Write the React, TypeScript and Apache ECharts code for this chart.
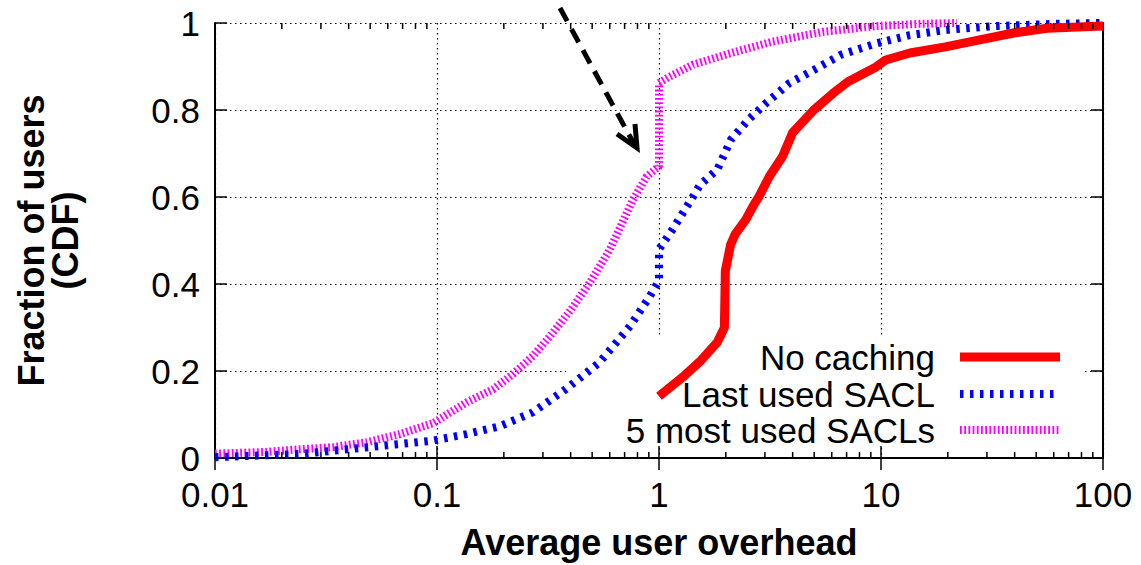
import React, { useEffect, useRef } from "react";
import * as echarts from "echarts";

const seriesNames = ["No caching", "Last used SACL", "5 most used SACLs"];
const seriesColors = ["#ff0000", "#0000ff", "#ff00ff"];

const noCaching: number[][] = [
  [1.0, 0.142], [1.28, 0.186], [1.53, 0.222], [1.83, 0.266], [1.93, 0.29], [1.97, 0.3],
  [1.99, 0.43], [2.1, 0.49], [2.2, 0.514], [2.46, 0.548], [2.66, 0.58], [2.82, 0.601],
  [3.14, 0.647], [3.6, 0.693], [4.0, 0.748], [4.98, 0.8], [6.1, 0.839], [7.1, 0.865],
  [9.5, 0.899], [10.5, 0.915], [13.5, 0.931], [19.5, 0.945], [27.8, 0.961], [39.5, 0.977],
  [56, 0.988], [100, 0.993],
];

const lastUsedSacl: number[][] = [
  [0.01, 0.002], [0.024, 0.009], [0.041, 0.021], [0.068, 0.032], [0.096, 0.04], [0.136, 0.055],
  [0.192, 0.073], [0.27, 0.105], [0.38, 0.158], [0.54, 0.22], [0.74, 0.303], [0.91, 0.372],
  [0.98, 0.4], [1.0, 0.41], [1.0, 0.48], [1.15, 0.525], [1.42, 0.6], [1.53, 0.628],
  [1.83, 0.663], [2.11, 0.732], [2.53, 0.778], [3.04, 0.816], [3.87, 0.862], [4.98, 0.892],
  [6.6, 0.927], [9.5, 0.953], [13.5, 0.972], [19.5, 0.984], [33, 0.993], [60, 0.998], [100, 1.0],
];

const mostUsed5: number[][] = [
  [0.01, 0.01], [0.017, 0.014], [0.024, 0.02], [0.034, 0.025], [0.048, 0.036], [0.068, 0.055],
  [0.096, 0.08], [0.136, 0.128], [0.179, 0.158], [0.22, 0.193], [0.27, 0.234], [0.323, 0.28],
  [0.4, 0.34], [0.489, 0.404], [0.6, 0.479], [0.764, 0.594], [0.88, 0.647], [0.97, 0.665],
  [1.0, 0.67], [1.0, 0.862], [1.1, 0.875], [1.42, 0.904], [2.11, 0.931], [3.23, 0.957],
  [5.53, 0.98], [9.5, 0.993], [15, 0.998], [22, 1.0],
];

const minorTickValues = [
  0.02, 0.03, 0.04, 0.05, 0.06, 0.07, 0.08, 0.09,
  0.2, 0.3, 0.4, 0.5, 0.6, 0.7, 0.8, 0.9,
  2, 3, 4, 5, 6, 7, 8, 9,
  20, 30, 40, 50, 60, 70, 80, 90,
];

const xTitle = "Average user overhead";
const yTitle = "Fraction of users\n(CDF)";

const FONT = '"Liberation Sans", Arial, Helvetica, sans-serif';

export default function App() {
  const ref = useRef<HTMLDivElement>(null);

  useEffect(() => {
    if (!ref.current) return;
    const chart = echarts.init(ref.current, undefined, { renderer: "svg" });

    const axisLine = { show: true, lineStyle: { color: "#000", width: 2 } };
    const splitLine = {
      show: true,
      lineStyle: { color: "#000", width: 1.2, type: [1.5, 3.5] as any },
    };

    const legendRows = [357, 394, 430];
    const legendDash: any[] = [null, [3.5, 6.5], [1.8, 2.4]];
    const legendWidths = [9, 8, 8];

    const graphic: any[] = [
      {
        type: "rect",
        z: 1,
        shape: { x: 566, y: 338, width: 516, height: 107 },
        style: { fill: "#fff" },
        silent: true,
      },
      {
        type: "line",
        z: 10,
        shape: { x1: 560, y1: 8, x2: 634, y2: 144 },
        style: { stroke: "#000", lineWidth: 5, lineDash: [15, 9] },
      },
      {
        type: "polyline",
        z: 10,
        shape: { points: [[617, 134], [637, 148], [635, 124]] },
        style: { stroke: "#000", lineWidth: 5, fill: "none", lineJoin: "miter" },
      },
    ];
    seriesNames.forEach((name, i) => {
      graphic.push({
        type: "text",
        z: 10,
        x: 935,
        y: legendRows[i],
        style: {
          text: name,
          fontSize: 35,
          fontFamily: FONT,
          fill: "#000",
          align: "right",
          verticalAlign: "middle",
        },
      });
      graphic.push({
        type: "line",
        z: 10,
        shape: { x1: 960, y1: legendRows[i], x2: 1060, y2: legendRows[i] },
        style: {
          stroke: seriesColors[i],
          lineWidth: legendWidths[i],
          lineDash: legendDash[i] || undefined,
          lineCap: "butt",
        },
      });
    });

    const tick = { show: true, inside: true, length: 12, lineStyle: { color: "#000", width: 1.5 } };

    const option: any = {
      animation: false,
      backgroundColor: "#fff",
      grid: { left: 215, right: 38, top: 23, bottom: 106, containLabel: false },
      xAxis: [
        {
          type: "log",
          logBase: 10,
          min: 0.01,
          max: 100,
          position: "bottom",
          axisLine,
          axisTick: tick,
          axisLabel: {
            show: true,
            color: "#000",
            fontSize: 35,
            lineHeight: 28,
            fontFamily: FONT,
            margin: 22,
            formatter: (v: number) => String(parseFloat(v.toPrecision(6))),
          },
          splitLine,
          name: xTitle,
          nameLocation: "middle",
          nameGap: 66,
          nameTextStyle: { color: "#000", fontSize: 36, fontWeight: "bold", fontFamily: FONT },
        },
        {
          type: "log",
          logBase: 10,
          min: 0.01,
          max: 100,
          position: "top",
          axisLine,
          axisTick: tick,
          axisLabel: { show: false },
          splitLine: { show: false },
        },
      ],
      yAxis: [
        {
          type: "value",
          min: 0,
          max: 1,
          interval: 0.2,
          position: "left",
          axisLine,
          axisTick: tick,
          axisLabel: { color: "#000", fontSize: 35, lineHeight: 28, fontFamily: FONT, margin: 15 },
          splitLine,
          name: yTitle,
          nameLocation: "middle",
          nameGap: 133,
          nameTextStyle: {
            color: "#000",
            fontSize: 36,
            fontWeight: "bold",
            fontFamily: FONT,
            lineHeight: 34,
          },
        },
        {
          type: "value",
          min: 0,
          max: 1,
          interval: 0.2,
          position: "right",
          axisLine,
          axisTick: tick,
          axisLabel: { show: false },
          splitLine: { show: false },
        },
      ],
      graphic,
      series: [
        {
          name: seriesNames[0],
          type: "line",
          data: noCaching,
          showSymbol: false,
          symbol: "none",
          z: 5,
          lineStyle: { color: seriesColors[0], width: 9, cap: "butt", join: "round" },
        },
        {
          name: seriesNames[1],
          type: "line",
          data: lastUsedSacl,
          showSymbol: false,
          symbol: "none",
          z: 4,
          lineStyle: { color: seriesColors[1], width: 8, type: [3.5, 6.5], cap: "butt" },
        },
        {
          name: seriesNames[2],
          type: "line",
          data: mostUsed5,
          showSymbol: false,
          symbol: "none",
          z: 3,
          lineStyle: { color: seriesColors[2], width: 8, type: [1.8, 2.4], cap: "butt" },
        },
        {
          name: "minorTicks",
          type: "custom",
          silent: true,
          clip: false,
          z: 6,
          data: minorTickValues.map((v) => [v, 0]),
          renderItem: (_params: any, api: any) => {
            const v = api.value(0);
            const b = api.coord([v, 0]);
            const t = api.coord([v, 1]);
            const st = { stroke: "#000", lineWidth: 1.5 };
            return {
              type: "group",
              children: [
                { type: "line", shape: { x1: b[0], y1: b[1], x2: b[0], y2: b[1] - 6 }, style: st },
                { type: "line", shape: { x1: t[0], y1: t[1], x2: t[0], y2: t[1] + 6 }, style: st },
              ],
            };
          },
        },
      ],
    };

    chart.setOption(option);
    return () => chart.dispose();
  }, []);

  return (
    <div
      ref={ref}
      style={{ position: "fixed", left: 0, top: 0, width: 1141, height: 565, background: "#fff" }}
    />
  );
}
